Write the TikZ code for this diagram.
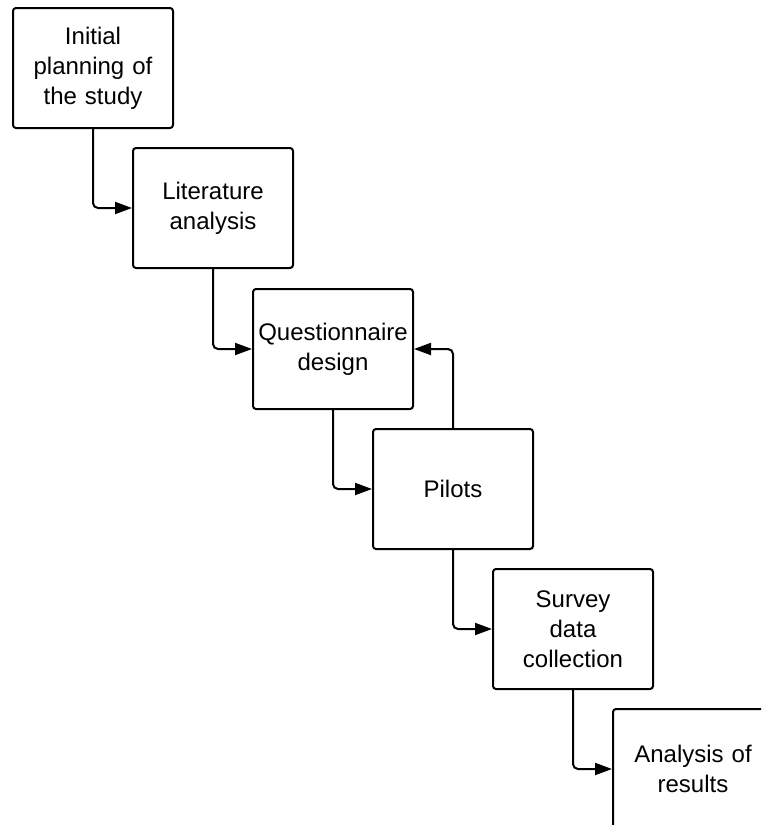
\documentclass[tikz,border=0pt]{standalone}
\usepackage{fontspec}
\setmainfont{Liberation Sans}
\usetikzlibrary{arrows.meta}
\begin{document}
\begin{tikzpicture}[x=1pt,y=-1pt,
  stepbox/.style={draw=black, line width=2pt, rounded corners=3pt, fill=white,
    minimum width=160pt, minimum height=120pt, inner sep=0pt,
    text width=156pt, align=center, font=\fontsize{24}{30}\selectfont},
  link/.style={draw=black, line width=2pt, rounded corners=5pt,
    -{Triangle[length=17pt,width=12pt]}}]
\useasboundingbox (0,0) rectangle (761,825);
\clip (0,0) rectangle (761,825);
\node[stepbox] (s1) at (93,68) {Initial\\planning of\\the study};
\node[stepbox] (s2) at (213,208) {Literature\\analysis};
\node[stepbox] (s3) at (333,349) {Questionnaire\\design};
\node[stepbox] (s4) at (453,489) {Pilots};
\node[stepbox] (s5) at (573,629) {Survey\\data\\collection};
\node[stepbox] (s6) at (693,769) {Analysis of\\results};
\draw[link] (s1.south) |- (s2.west);
\draw[link] (s2.south) |- (s3.west);
\draw[link] (s3.south) |- (s4.west);
\draw[link] (s4.south) |- (s5.west);
\draw[link] (s5.south) |- (s6.west);
\draw[link] (s4.north) |- (s3.east);
\end{tikzpicture}
\end{document}
